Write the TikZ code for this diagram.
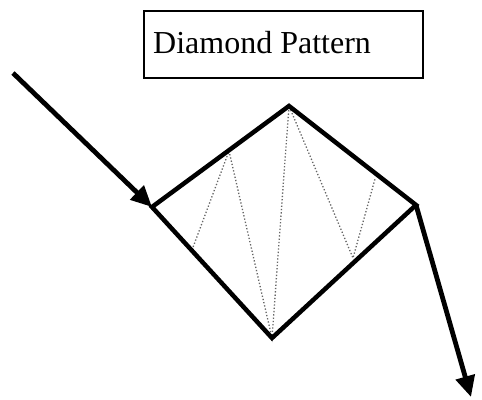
\documentclass[tikz,border=0pt]{standalone}
\usepackage{fontspec}
\setmainfont{Liberation Serif}
\usetikzlibrary{arrows.meta}
\begin{document}
\begin{tikzpicture}[x=1pt,y=-1pt,
  edge/.style={line width=4.5pt,line cap=round,line join=miter},
  trend/.style={line width=4.8pt,-{Triangle[length=21pt,width=19pt]}},
  wave/.style={line width=1.3pt,black!60,dotted},
  titlebox/.style={draw,line width=1.5pt,minimum width=279pt,minimum height=67pt,inner sep=0pt}]
\useasboundingbox (0,0) rectangle (482,399);
\node[titlebox] (title) at (283.5,44.5) {};
\node[anchor=base west,inner sep=0pt,font=\fontsize{32}{36}\selectfont] (label) at (153,53) {Diamond Pattern};
\coordinate (L) at (152,207);
\coordinate (T) at (289,106);
\coordinate (R) at (416,205);
\coordinate (B) at (272,338);
\coordinate (S) at (13,73);
\coordinate (E) at (471,397);
\coordinate (w1) at (192,250);
\coordinate (w2) at (229,151);
\coordinate (w5) at (353,258);
\coordinate (w6) at (375,179);
\draw[wave] (w1) -- (w2) -- (B) -- (T) -- (w5) -- (w6);
\draw[edge] (L) -- (T) -- (R) -- (B) -- cycle;
\draw[trend] (S) -- (L);
\draw[trend] (R) -- (E);
\end{tikzpicture}
\end{document}
